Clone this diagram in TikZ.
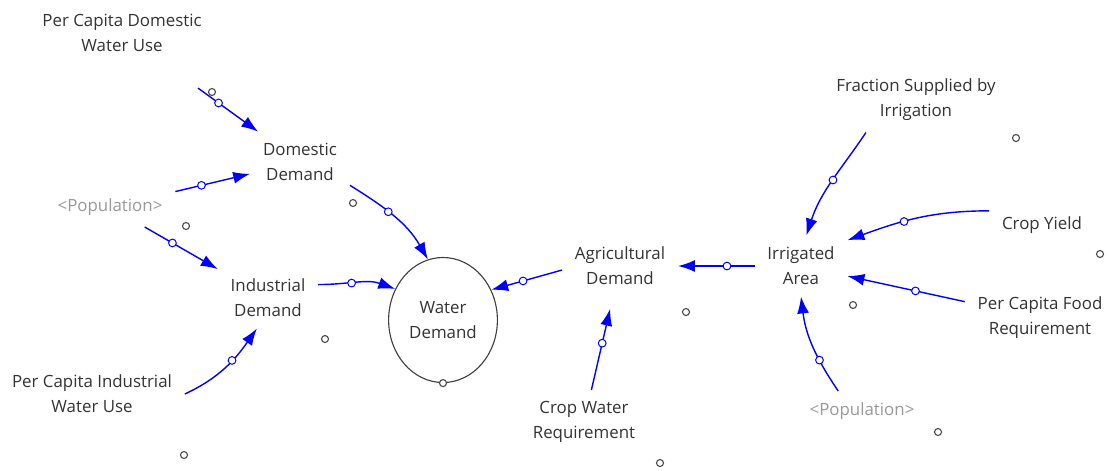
\documentclass[tikz,border=0pt]{standalone}
\usepackage{fontspec}
\setmainfont{Open Sans}
\usetikzlibrary{arrows.meta,shapes.geometric}

\begin{document}
\begin{tikzpicture}[x=0.025cm, y=0.025cm,
    var/.style={align=center, inner xsep=9pt, inner ysep=8pt, text=black!80,
      font=\fontsize{12}{17.8}\selectfont},
    shadowvar/.style={var, text=black!40},
    link/.style={draw=blue, line width=1pt, -{Latex[length=12pt,width=8.5pt]}},
    knob/.style={circle, draw=blue, fill=white, line width=0.7pt, inner sep=0pt, minimum size=5.5pt},
    handle/.style={circle, draw=black!70, fill=white, line width=0.8pt, inner sep=0pt, minimum size=5pt}]

    % Fix the page size (pixels of the reference, y runs downwards as negative)
    \useasboundingbox (0,0) rectangle (1110,-470);

    % Left side: domestic and industrial demand
    \node[var] (pcdw) at (122,-33) {Per Capita Domestic\\Water Use};
    \node[var] (dd) at (300,-162) {Domestic\\Demand};
    \node[shadowvar] (popl) at (110,-207) {<Population>};
    \node[var] (ind) at (268,-298) {Industrial\\Demand};
    \node[var] (pciw) at (92,-394) {Per Capita Industrial\\Water Use};

    % The level in the middle
    \node[ellipse, draw=black!75, line width=0.8pt, minimum width=2.625cm, minimum height=3.125cm,
      align=center, text=black!80, font=\fontsize{12}{17.8}\selectfont] (wd) at (443,-320) {Water\\Demand};

    % Right side: agricultural demand
    \node[var] (ag) at (620,-266) {Agricultural\\Demand};
    \node[var] (cwr) at (584,-422) {Crop Water\\Requirement};
    \node[var] (ia) at (801,-266) {Irrigated\\Area};
    \node[var] (fsi) at (916,-100) {Fraction Supplied by\\Irrigation};
    \node[var] (cy) at (1042,-225) {Crop Yield};
    \node[var] (pcfr) at (1040,-318) {Per Capita Food\\Requirement};
    \node[shadowvar] (popr) at (862,-411) {<Population>};

    % Small handles next to the variables
    \node[handle] (h-pcdw) at (212,-92) {};
    \node[handle] (h-dd) at (353,-203) {};
    \node[handle] (h-popl) at (186,-226) {};
    \node[handle] (h-ind) at (325,-339) {};
    \node[handle] (h-pciw) at (184,-455) {};
    \node[handle] (h-wd) at (wd.south) {};
    \node[handle] (h-ag) at (686,-312) {};
    \node[handle] (h-cwr) at (660,-463) {};
    \node[handle] (h-ia) at (853,-305) {};
    \node[handle] (h-fsi) at (1016,-138) {};
    \node[handle] (h-cy) at (1100,-254) {};
    \node[handle] (h-popr) at (938,-432) {};

    % Links into domestic and industrial demand
    \draw[link, shorten <=30pt] (pcdw) -- node[knob, pos=0.58] {} (dd);
    \draw[link] (popl) -- node[knob, pos=0.35] {} (dd);
    \draw[link] (popl) -- node[knob, pos=0.38] {} (ind);
    \draw[link] (pciw.east) to[out=25, in=235] node[knob, pos=0.6] {} (ind.250);

    % Links into water demand
    \draw[link] (dd.-25) to[out=-32, in=120] node[knob, pos=0.42] {} (wd.104);
    \draw[link] (ind.15) to[out=0, in=160] node[knob, pos=0.42] {} (wd.147);
    \draw[link] (ag.184) -- node[knob, pos=0.55] {} (wd.32);

    % Links into agricultural demand
    \draw[link, shorten >=9pt] (cwr) -- node[knob, pos=0.5] {} (ag);
    \draw[link] (ia) -- node[knob, pos=0.36] {} (ag);

    % Links into irrigated area
    \draw[link] (fsi.213) to[out=236, in=72] node[knob, pos=0.48] {} (ia.80);
    \draw[link] (cy.165) to[out=180, in=20] node[knob, pos=0.6] {} (ia.29);
    \draw[link] (pcfr) -- node[knob, pos=0.42] {} (ia);
    \draw[link] (popr.140) to[out=124, in=-83] node[knob, pos=0.34] {} (ia.south);

\end{tikzpicture}
\end{document}
